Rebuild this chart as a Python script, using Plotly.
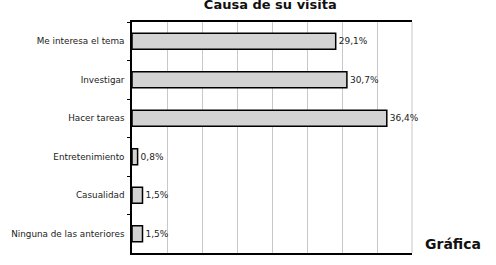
import plotly.graph_objects as go

categories = ["Me interesa el tema", "Investigar", "Hacer tareas", "Entretenimiento",
              "Casualidad", "Ninguna de las anteriores"]
values = [29.1, 30.7, 36.4, 0.8, 1.5, 1.5]
labels = ["29,1%", "30,7%", "36,4%", "0,8%", "1,5%", "1,5%"]

fig = go.Figure(go.Bar(
    x=values, y=categories, orientation="h",
    marker=dict(color="#d3d3d3", line=dict(color="black", width=1.5)),
    width=0.42,
    text=labels, textposition="outside", cliponaxis=False,
    textfont=dict(family="DejaVu Sans", size=9, color="#222"),
))

fig.update_layout(
    width=496, height=265,
    margin=dict(l=132, r=84, t=22, b=12),
    paper_bgcolor="white", plot_bgcolor="white",
    showlegend=False,
    font=dict(family="DejaVu Sans", size=9, color="#222"),
    title=dict(text="<b>Causa de su visita</b>", x=0.545, xanchor="center",
               y=0.985, yanchor="middle",
               font=dict(family="DejaVu Sans", size=13, color="#111")),
    annotations=[dict(text="<b>Gráfica</b>", xref="paper", yref="paper",
                      x=1.252, y=0.04, xanchor="right", yanchor="middle",
                      showarrow=False,
                      font=dict(family="DejaVu Sans", size=14, color="#111"))],
    shapes=[dict(type="line", xref="paper", yref="paper", x0=1, x1=1, y0=0, y1=1,
                 line=dict(color="#c8c8c8", width=1), layer="below")],
)
fig.update_xaxes(range=[0, 40], dtick=5, showticklabels=False, ticks="",
                 showgrid=True, gridcolor="#c8c8c8", gridwidth=1,
                 showline=True, linecolor="black", linewidth=1.5, mirror=True,
                 zeroline=False)
fig.update_yaxes(autorange="reversed", ticks="outside", tickson="boundaries",
                 ticklen=3, tickcolor="black", showgrid=False,
                 showline=True, linecolor="black", linewidth=1.5,
                 ticklabelstandoff=4,
                 tickfont=dict(family="DejaVu Sans", size=8.8, color="#222"))

fig.write_html("out.html")
